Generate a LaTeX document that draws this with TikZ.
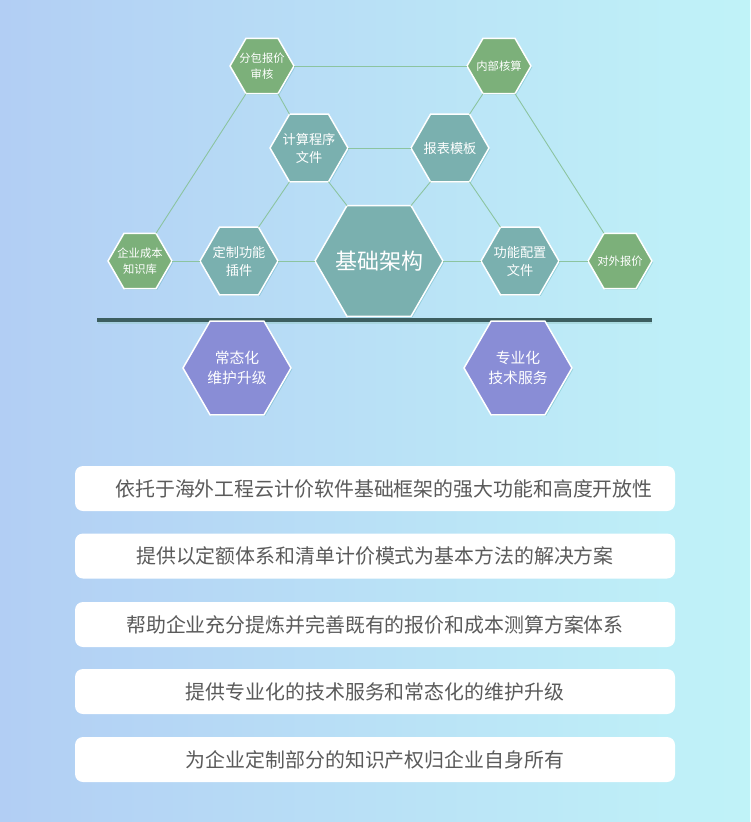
\documentclass[tikz,border=0pt]{standalone}
\usepackage{fontspec}
\newfontfamily\cjk{Noto Sans CJK SC}
\usetikzlibrary{shapes.geometric,shadows}
\definecolor{bgL}{RGB}{178,206,244}
\definecolor{bgR}{RGB}{192,243,248}
\definecolor{hgreen}{RGB}{124,176,122}
\definecolor{hteal}{RGB}{122,176,175}
\definecolor{hpurple}{RGB}{137,141,214}
\definecolor{connc}{RGB}{140,196,160}
\definecolor{barc}{RGB}{60,94,96}
\definecolor{boxtext}{RGB}{90,90,90}
\begin{document}
\begin{tikzpicture}[x=1pt,y=-1pt,
  hexa/.style={regular polygon, regular polygon sides=6, draw=white, line width=1.5pt,
    inner sep=0pt, outer sep=0pt,
    drop shadow={shadow xshift=1.2pt, shadow yshift=-1.2pt, opacity=0.22, fill=teal}},
  smallhex/.style={hexa, minimum size=64pt, fill=hgreen},
  midhex/.style={hexa, minimum size=78pt, fill=hteal},
  bighex/.style={hexa, minimum size=128pt, fill=hteal},
  purphex/.style={hexa, minimum size=108pt, fill=hpurple},
  stxt/.style={text=white, align=center, inner sep=0pt, font=\cjk\fontsize{11.3}{16}\selectfont},
  mtxt/.style={text=white, align=center, inner sep=0pt, font=\cjk\fontsize{13.2}{18}\selectfont},
  btxt/.style={text=white, align=center, inner sep=0pt, font=\cjk\fontsize{22}{26}\selectfont},
  ptxt/.style={text=white, align=center, inner sep=0pt, font=\cjk\fontsize{14.8}{20}\selectfont},
  conn/.style={draw=connc, line width=0.9pt},
  infobox/.style={fill=white, rounded corners=8pt, minimum width=600pt, minimum height=45pt,
    inner sep=0pt, text=boxtext, font=\cjk\fontsize{19.9}{24}\selectfont}]
\useasboundingbox (0,0) rectangle (750,822);
\fill[left color=bgL, right color=bgR] (0,0) rectangle (750,822);

% dark bar
\draw[line width=3pt, draw=teal!40, opacity=0.5] (98,322.5) -- (652,322.5);
\draw[line width=3.6pt, draw=barc] (97,320) -- (652,320);

% hexagons
\node[smallhex] (fb) at (262,66) {};
\node[stxt] (fb-t) at (fb) {分包报价\\审核};
\node[smallhex] (nb) at (499,66) {};
\node[stxt] (nb-t) at (nb) {内部核算};
\node[midhex] (js) at (309,148) {};
\node[mtxt] (js-t) at (js) {计算程序\\文件};
\node[midhex] (bb) at (450,148) {};
\node[mtxt] (bb-t) at (bb) {报表模板};
\node[smallhex] (qy) at (140,261) {};
\node[stxt] (qy-t) at (qy) {企业成本\\知识库};
\node[midhex] (dz) at (239,261) {};
\node[mtxt] (dz-t) at (dz) {定制功能\\插件};
\node[bighex] (jc) at (379,261) {};
\node[btxt] (jc-t) at (jc) {基础架构};
\node[midhex] (gn) at (520,261) {};
\node[mtxt] (gn-t) at (gn) {功能配置\\文件};
\node[smallhex] (dw) at (620,261) {};
\node[stxt] (dw-t) at (dw) {对外报价};
\node[purphex] (ct) at (237,368) {};
\node[ptxt] (ct-t) at (ct) {常态化\\维护升级};
\node[purphex] (zy) at (518,368) {};
\node[ptxt] (zy-t) at (zy) {专业化\\技术服务};

% connectors
\draw[conn] (fb.0) -- (nb.180);
\draw[conn] (fb.240) -- (qy.60);
\draw[conn] (fb.300) -- (js.120);
\draw[conn] (js.0) -- (bb.180);
\draw[conn] (js.240) -- (dz.60);
\draw[conn] (js.300) -- (jc.120);
\draw[conn] (bb.240) -- (jc.60);
\draw[conn] (bb.60) -- (nb.240);
\draw[conn] (bb.300) -- (gn.120);
\draw[conn] (nb.300) -- (dw.120);
\draw[conn] (qy.0) -- (dz.180);
\draw[conn] (dz.0) -- (jc.180);
\draw[conn] (jc.0) -- (gn.180);
\draw[conn] (gn.0) -- (dw.180);

% info boxes
\node[infobox] (b1) at (375,488.5) {\hspace*{18pt}依托于海外工程云计价软件基础框架的强大功能和高度开放性};
\node[infobox] (b2) at (375,556) {提供以定额体系和清单计价模式为基本方法的解决方案};
\node[infobox] (b3) at (375,624.5) {帮助企业充分提炼并完善既有的报价和成本测算方案体系};
\node[infobox] (b4) at (375,691.5) {提供专业化的技术服务和常态化的维护升级};
\node[infobox] (b5) at (375,759.5) {为企业定制部分的知识产权归企业自身所有};
\end{tikzpicture}
\end{document}
